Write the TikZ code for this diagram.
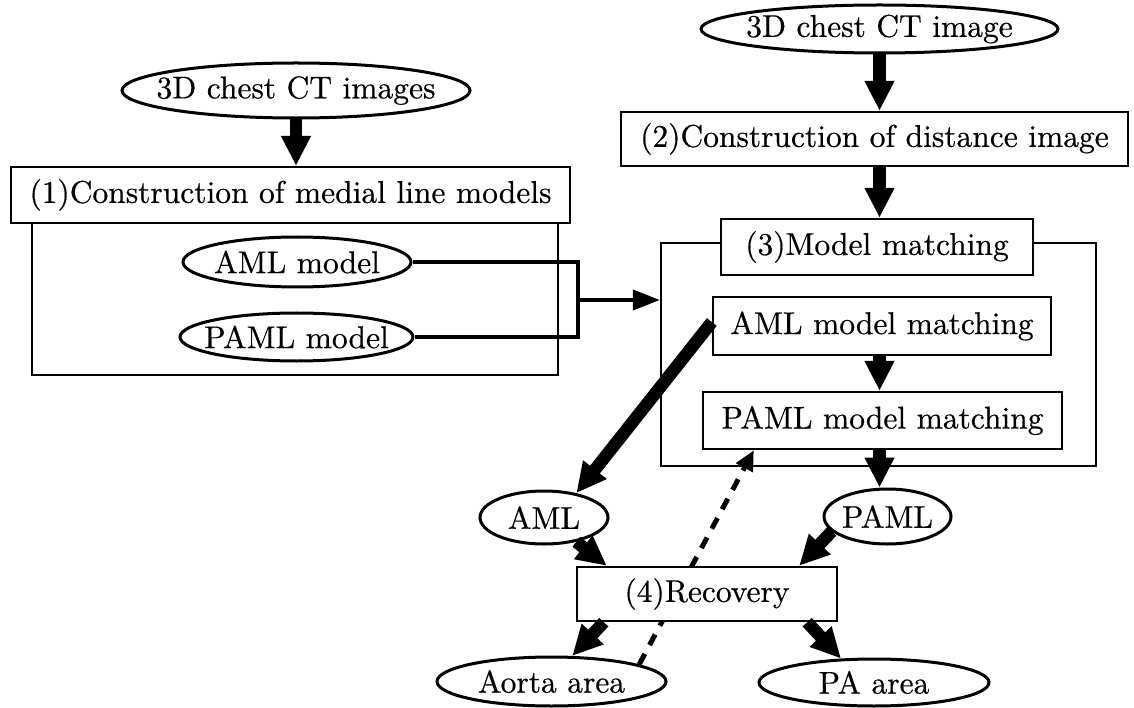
\documentclass[tikz,border=0pt]{standalone}
\usepackage{fontspec}
\setmainfont{lmroman10-regular.otf}[FakeBold=0.5]
\usetikzlibrary{shapes.geometric,arrows.meta,calc}
\pgfdeclarelayer{background}
\pgfsetlayers{background,main}
\begin{document}
\begin{tikzpicture}[x=1pt,y=-1pt,
  every node/.style={font=\fontsize{31.5}{38}\selectfont, inner sep=0pt},
  procbox/.style={draw, line width=2.4pt, fill=white, rectangle},
  frame/.style={draw, line width=2.4pt, rectangle},
  oval/.style={draw, line width=3pt, fill=white, ellipse},
  bigarrow/.style={line width=12.5pt, -{Triangle[length=30pt,width=28pt]}},
  thinarrow/.style={line width=4pt, -{Triangle[length=27pt,width=20pt]}},
  dasharrow/.style={line width=5pt, dash pattern=on 12pt off 10pt, -{Triangle[length=20pt,width=18pt]}}
]
\useasboundingbox (0,0) rectangle (1134,708);
\begin{pgfonlayer}{background}
\fill[white] (0,0) rectangle (1134,708);
\end{pgfonlayer}

% containers
\node[frame, minimum width=526pt, minimum height=180pt] (cont1) at (295,285) {};
\node[frame, minimum width=435pt, minimum height=223pt] (cont3) at (878.5,354.5) {};

% left column
\node[oval, minimum width=348pt, minimum height=55pt, label=center:{3D chest CT images}] (ct1) at (296,90.5) {};
\node[procbox, minimum width=559pt, minimum height=56pt] (box1) at (290.5,195) {(1)Construction of medial line models};
\node[oval, minimum width=228pt, minimum height=50pt, label=center:{AML model}] (amlm) at (297,262) {};
\node[oval, minimum width=233pt, minimum height=48pt, label=center:{PAML model}] (pamlm) at (296.5,337) {};

% right column
\node[oval, minimum width=357pt, minimum height=48pt, label=center:{3D chest CT image}] (ct2) at (879.5,29) {};
\node[procbox, minimum width=507pt, minimum height=54pt] (box2) at (874.5,139) {(2)Construction of distance image};
\node[procbox, minimum width=312pt, minimum height=56pt] (box3) at (877,247) {(3)Model matching};
\node[procbox, minimum width=338pt, minimum height=58pt] (amm) at (882,326) {AML model matching};
\node[procbox, minimum width=359pt, minimum height=57pt] (pmm) at (882.5,420.5) {PAML model matching};

% outputs
\node[oval, minimum width=128pt, minimum height=53pt, label=center:{AML}] (aml) at (544,517.5) {};
\node[oval, minimum width=127pt, minimum height=55pt, label=center:{PAML}] (paml) at (887.5,516.5) {};
\node[procbox, minimum width=260pt, minimum height=54pt] (rec) at (707,594) {(4)Recovery};
\node[oval, minimum width=229pt, minimum height=49pt, label=center:{Aorta area}] (aorta) at (551.5,681.5) {};
\node[oval, minimum width=230pt, minimum height=47pt, label=center:{PA area}] (pa) at (874,682.5) {};

% dashed feedback (behind boxes)
\begin{pgfonlayer}{background}
\draw[dasharrow] (aorta.11) -- ([xshift=52pt]pmm.south west);
\end{pgfonlayer}

% main flow
\draw[bigarrow] (ct1.south) -- (ct1.south |- box1.north);
\draw[bigarrow] (ct2.south) -- (ct2.south |- box2.north);
\draw[bigarrow] (ct2.south |- box2.south) -- (ct2.south |- box3.north);
\draw[bigarrow] (ct2.south |- amm.south) -- (ct2.south |- pmm.north);
\draw[bigarrow] (ct2.south |- pmm.south) -- (ct2.south |- paml.north);
\draw[bigarrow] ([yshift=4pt]amm.west) -- (aml.37);
\draw[bigarrow] (aml.-37) -- ([xshift=31pt]rec.north west);
\draw[bigarrow] (paml.195) -- ([xshift=-39pt]rec.north east);
\draw[bigarrow] ([xshift=28pt]rec.south west) -- (aorta.51);
\draw[bigarrow] ([xshift=-31pt]rec.south east) -- (pa.144);

% bracket from models
\coordinate (brk) at (578,300);
\draw[line width=4pt] (amlm.east) -| (brk) |- (pamlm.east);
\draw[thinarrow] (brk) -- (brk -| cont3.west);
\end{tikzpicture}
\end{document}
